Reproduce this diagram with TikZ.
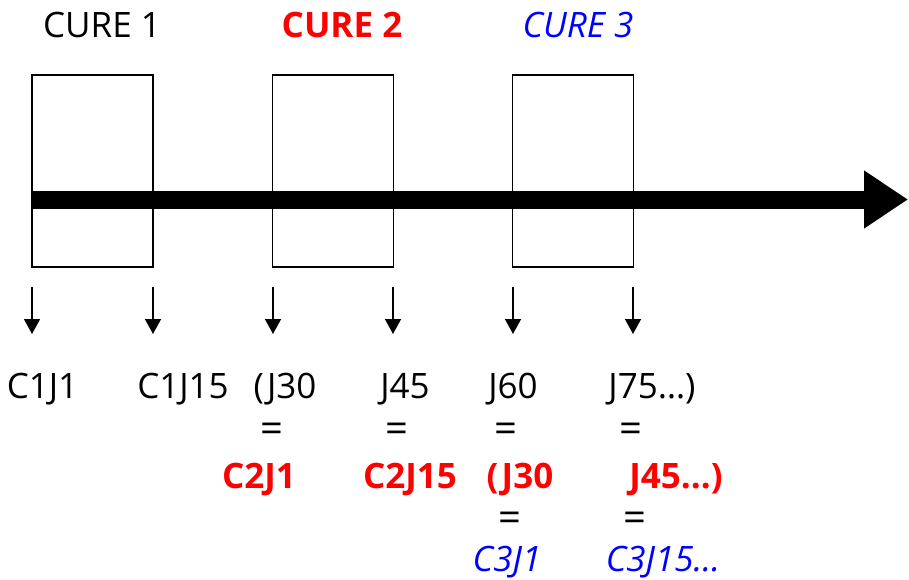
\documentclass[tikz,border=0pt]{standalone}
\usepackage{fontspec}
\setmainfont{Open Sans}
\usetikzlibrary{arrows.meta}
\begin{document}
\begin{tikzpicture}[x=1pt,y=-1pt,
  lbl/.style={anchor=base,inner sep=0pt,font=\fontsize{35}{42}\selectfont},
  bred/.style={lbl,red,font=\fontsize{35}{42}\selectfont\bfseries},
  iblue/.style={lbl,blue,font=\fontsize{35}{42}\selectfont\itshape},
  eqs/.style={anchor=center,inner sep=0pt,font=\fontsize{40}{46}\selectfont},
  cure/.style={draw,line width=1.5pt,minimum width=121pt,minimum height=192pt,inner sep=0pt},
  tick/.style={line width=1.5pt,-{Triangle[length=15pt,width=16pt]}},
  timeline/.style={line width=18pt,-{Triangle[length=44pt,width=55pt]}}]
\useasboundingbox (0,0) rectangle (909,580);
% boxes
\node[cure] (b1) at (92.5,171) {};
\node[cure] (b2) at (333,171) {};
\node[cure] (b3) at (573,171) {};
% timeline
\coordinate (t0) at (32,199.5);
\coordinate (t1) at (908,199.5);
\draw[timeline] (t0) -- (t1);
% titles
\node[lbl] (c1) at (102,38) {CURE 1};
\node[bred] (c2) at (342,38) {CURE 2};
\node[iblue] (c3) at (578,38) {CURE 3};
% ticks
\foreach \i/\x in {1/32,2/153,3/273,4/393,5/513,6/633}{
  \coordinate (s\i) at (\x,287);
  \coordinate (e\i) at (\x,334);
  \draw[tick] (s\i) -- (e\i);
}
% row 1
\node[lbl] (r1a) at (42.5,398) {C1J1};
\node[lbl] (r1b) at (183,398) {C1J15};
\node[lbl] (r1c) at (285,398) {(J30};
\node[lbl] (r1d) at (405,398) {J45};
\node[lbl] (r1e) at (513,398) {J60};
\node[lbl] (r1f) at (652,398) {J75…)};
% equals row 1
\node[eqs] (q1) at (272,433) {=};
\node[eqs] (q2) at (397,433) {=};
\node[eqs] (q3) at (506,433) {=};
\node[eqs] (q4) at (631,433) {=};
% row 2
\node[bred] (r2a) at (259,488) {C2J1};
\node[bred] (r2b) at (410,488) {C2J15};
\node[bred] (r2c) at (520,488) {(J30};
\node[bred] (r2d) at (676,488) {J45…)};
% equals row 2
\node[eqs] (q5) at (510,522) {=};
\node[eqs] (q6) at (635,522) {=};
% row 3
\node[iblue] (r3a) at (507,571) {C3J1};
\node[iblue] (r3b) at (663,571) {C3J15…};
\end{tikzpicture}
\end{document}
